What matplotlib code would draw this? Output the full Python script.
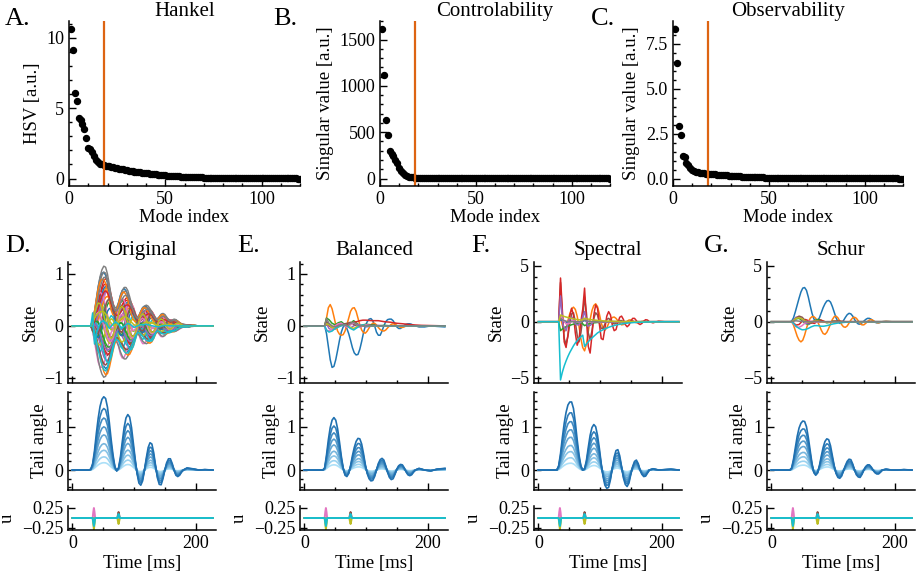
import numpy as np
import matplotlib
matplotlib.use('Agg')
import matplotlib.pyplot as plt
from matplotlib.ticker import MultipleLocator, AutoMinorLocator
from matplotlib.colors import to_rgb

plt.rcParams['font.family'] = ['Liberation Serif', 'DejaVu Serif']
plt.rcParams['font.size'] = 13

# ---------------- top row: singular values ----------------
modes = list(range(1, 121))
cutoff = 18

hsv = [10.65, 9.1, 6.1, 5.5, 4.3, 4.15, 3.85, 3.55, 2.85, 2.2, 2.1, 1.85, 1.6, 1.35, 1.15, 1.05, 1.0,
       0.95, 0.92, 0.89, 0.86, 0.83, 0.80, 0.77, 0.74, 0.71, 0.68, 0.65, 0.62, 0.60,
       0.57, 0.55, 0.52, 0.50, 0.48, 0.46, 0.44, 0.42, 0.40, 0.38,
       0.36, 0.34, 0.33, 0.31, 0.30, 0.28, 0.27, 0.25, 0.24, 0.23,
       0.21, 0.20, 0.19, 0.18, 0.17, 0.16, 0.15, 0.14, 0.135, 0.13,
       0.12, 0.115, 0.11, 0.10, 0.095, 0.09, 0.085, 0.08, 0.075, 0.07,
       0.065, 0.06, 0.057, 0.054, 0.05, 0.047, 0.044, 0.041, 0.038, 0.036,
       0.034, 0.032, 0.03, 0.028, 0.026, 0.025, 0.024, 0.022, 0.021, 0.02,
       0.019, 0.018, 0.017, 0.016, 0.015, 0.014, 0.013, 0.012, 0.012, 0.011,
       0.011, 0.010, 0.010, 0.009, 0.009, 0.008, 0.008, 0.008, 0.007, 0.007,
       0.007, 0.006, 0.006, 0.006, 0.005, 0.005, 0.005, 0.005, 0.004, 0.004]

ctrl = [1620, 1115, 630, 470, 295, 265, 240, 205, 170, 115, 80, 55, 38, 28, 20, 15, 12,
        10, 9, 8, 7.5, 7, 6.5, 6, 5.6, 5.2, 4.9, 4.6, 4.3, 4.0,
        3.8, 3.6, 3.4, 3.2, 3.0, 2.8, 2.6, 2.5, 2.4, 2.3,
        2.2, 2.1, 2.0, 1.9, 1.8, 1.7, 1.6, 1.5, 1.45, 1.4,
        1.3, 1.25, 1.2, 1.15, 1.1, 1.05, 1.0, 0.95, 0.9, 0.85,
        0.8, 0.76, 0.72, 0.68, 0.64, 0.6, 0.57, 0.54, 0.51, 0.48,
        0.45, 0.43, 0.41, 0.39, 0.37, 0.35, 0.33, 0.31, 0.3, 0.28,
        0.27, 0.26, 0.25, 0.24, 0.23, 0.22, 0.21, 0.2, 0.19, 0.18,
        0.17, 0.16, 0.15, 0.14, 0.13, 0.12, 0.11, 0.1, 0.1, 0.09,
        0.09, 0.08, 0.08, 0.07, 0.07, 0.06, 0.06, 0.05, 0.05, 0.05,
        0.04, 0.04, 0.04, 0.03, 0.03, 0.03, 0.02, 0.02, 0.02, 0.01]

obs = [8.35, 6.45, 2.9, 2.4, 1.25, 1.2, 0.88, 0.75, 0.6, 0.48, 0.42, 0.38, 0.35, 0.33, 0.31, 0.29, 0.28,
       0.27, 0.26, 0.25, 0.24, 0.23, 0.22, 0.21, 0.2, 0.19, 0.18, 0.17, 0.16, 0.15,
       0.145, 0.14, 0.13, 0.125, 0.12, 0.11, 0.105, 0.1, 0.095, 0.09,
       0.085, 0.08, 0.076, 0.072, 0.068, 0.064, 0.06, 0.057, 0.054, 0.051,
       0.048, 0.045, 0.043, 0.041, 0.039, 0.037, 0.035, 0.033, 0.031, 0.03,
       0.028, 0.027, 0.026, 0.025, 0.024, 0.023, 0.022, 0.021, 0.02, 0.019,
       0.018, 0.017, 0.016, 0.015, 0.015, 0.014, 0.013, 0.013, 0.012, 0.012,
       0.011, 0.011, 0.01, 0.01, 0.01, 0.009, 0.009, 0.009, 0.008, 0.008,
       0.008, 0.007, 0.007, 0.007, 0.007, 0.006, 0.006, 0.006, 0.006, 0.005,
       0.005, 0.005, 0.005, 0.005, 0.004, 0.004, 0.004, 0.004, 0.004, 0.004,
       0.003, 0.003, 0.003, 0.003, 0.003, 0.003, 0.003, 0.002, 0.002, 0.002]

# ---------------- bottom rows: time series ----------------
t_ms = [0, 27, 30, 33, 36, 39, 42, 45, 48, 51,
        54, 57, 60, 63, 66, 69, 72, 75, 78, 81,
        84, 87, 90, 93, 96, 99, 102, 105, 108, 111,
        114, 117, 120, 123, 126, 129, 132, 135, 138, 141,
        144, 147, 150, 153, 156, 159, 162, 165, 168, 171,
        174, 177, 180, 186, 195, 205, 215, 228]

# largest tail-angle trace (tail tip) for each model
tail_original = [0, 0, 0.02, 0.15, 0.45, 0.85, 1.2, 1.47, 1.63, 1.69,
                 1.65, 1.45, 1.1, 0.7, 0.35, 0.08, -0.02, 0.05, 0.3, 0.65,
                 0.98, 1.2, 1.28, 1.22, 0.98, 0.62, 0.25, -0.08, -0.3, -0.35,
                 -0.25, 0.0, 0.28, 0.52, 0.63, 0.6, 0.4, 0.1, -0.18, -0.33,
                 -0.34, -0.2, 0.0, 0.17, 0.26, 0.26, 0.15, 0.0, -0.12, -0.15,
                 -0.12, -0.05, 0.0, 0.05, 0.03, 0.0, 0.01, 0.0]
tail_balanced = [0, 0, 0, 0.05, 0.35, 0.7, 0.98, 1.15, 1.21, 1.15,
                 0.95, 0.65, 0.32, 0.05, -0.12, -0.15, -0.08, 0.1, 0.33, 0.52,
                 0.66, 0.73, 0.72, 0.6, 0.38, 0.12, -0.08, -0.2, -0.25, -0.24,
                 -0.15, 0.0, 0.15, 0.24, 0.27, 0.23, 0.1, -0.05, -0.17, -0.22,
                 -0.2, -0.1, 0.02, 0.1, 0.13, 0.12, 0.05, -0.04, -0.11, -0.13,
                 -0.11, -0.05, 0.0, 0.04, 0.0, -0.02, 0.02, 0.04]
tail_spectral = [0, 0, 0, 0.1, 0.38, 0.75, 1.08, 1.33, 1.5, 1.57,
                 1.57, 1.42, 1.1, 0.7, 0.35, 0.1, 0.0, 0.03, 0.22, 0.52,
                 0.8, 0.98, 1.05, 1.0, 0.8, 0.5, 0.15, -0.15, -0.35, -0.42,
                 -0.4, -0.22, 0.05, 0.3, 0.45, 0.47, 0.33, 0.08, -0.18, -0.33,
                 -0.38, -0.3, -0.1, 0.08, 0.2, 0.23, 0.15, 0.0, -0.1, -0.15,
                 -0.14, -0.07, 0.0, 0.03, 0.0, 0.01, 0.02, 0.0]
tail_schur = [0, 0, 0, 0.05, 0.25, 0.52, 0.78, 0.97, 1.08, 1.13,
              1.12, 1.0, 0.75, 0.45, 0.15, -0.06, -0.12, -0.07, 0.1, 0.32,
              0.52, 0.66, 0.72, 0.7, 0.56, 0.33, 0.1, -0.08, -0.17, -0.19,
              -0.14, -0.02, 0.1, 0.2, 0.25, 0.24, 0.14, 0.0, -0.11, -0.16,
              -0.17, -0.1, 0.0, 0.08, 0.12, 0.12, 0.07, 0.0, -0.06, -0.09,
              -0.09, -0.05, 0.0, 0.02, 0.0, 0.0, 0.01, 0.0]
# relative amplitude of each tail segment (base -> tip)
tail_gains = [0.1, 0.18, 0.27, 0.36, 0.48, 0.59, 0.71, 0.84, 1.0]

state_original = [0, 0, 0, 0.05, 0.25, 0.5, 0.75, 0.95, 1.08, 1.15,
                  1.13, 1.0, 0.8, 0.58, 0.42, 0.35, 0.36, 0.45, 0.58, 0.68,
                  0.74, 0.74, 0.68, 0.56, 0.42, 0.3, 0.2, 0.17, 0.2, 0.27,
                  0.34, 0.38, 0.4, 0.38, 0.33, 0.27, 0.2, 0.15, 0.14, 0.17,
                  0.22, 0.24, 0.22, 0.17, 0.12, 0.1, 0.11, 0.13, 0.12, 0.09,
                  0.06, 0.04, 0.03, 0.02, 0.01, 0.0, 0.0, 0.0]
state_original_b = [0, 0, 0, 0.3, 0.6, 0.85, 1.0, 0.9, 0.6, 0.2,
                    -0.2, -0.6, -0.85, -0.9, -0.7, -0.3, 0.1, 0.5, 0.8, 0.85,
                    0.65, 0.3, -0.1, -0.5, -0.7, -0.7, -0.5, -0.15, 0.2, 0.45,
                    0.55, 0.45, 0.2, -0.1, -0.35, -0.45, -0.4, -0.2, 0.05, 0.25,
                    0.3, 0.25, 0.1, -0.08, -0.2, -0.22, -0.15, -0.03, 0.08, 0.12,
                    0.1, 0.05, 0.0, -0.04, 0.02, 0.0, 0.0, 0.0]
gains_original = [0.88, 0.6, 0.35, 0.78, -0.55, 0.15, 0.5, 1.0, 0.25, -0.2,
                  -0.7, 0.45, -0.3, 0.7, 0.05, -0.45, -0.6, -0.86, -0.1, 0.3,
                  0.65, -0.8, 0.2, -0.4, 0.55, -0.65, 0.4, 0.9, -0.15, -0.5,
                  0.1, 0.75, -0.25, 0.58, -0.35, 0.28, -0.05, 0.82, 0.12, -0.75]
gains_original_b = [0.1, -0.25, 0.3, -0.15, 0.2, 0.35, -0.3, 0.0, 0.25, -0.35,
                    0.15, -0.2, 0.3, -0.1, 0.35, 0.2, -0.25, 0.0, 0.3, -0.3,
                    -0.15, 0.2, -0.35, 0.25, -0.2, 0.1, 0.3, 0.0, -0.25, 0.35,
                    -0.3, 0.15, 0.25, -0.1, 0.2, -0.35, 0.3, -0.05, 0.35, 0.1]

state_bal_blue = [0, 0, 0, 0, -0.15, -0.4, -0.65, -0.8, -0.78, -0.65,
                  -0.47, -0.28, -0.12, -0.02, 0.0, -0.05, -0.15, -0.28, -0.42, -0.52,
                  -0.56, -0.55, -0.45, -0.3, -0.13, 0.0, 0.08, 0.13, 0.14, 0.1,
                  0.0, -0.12, -0.18, -0.18, -0.1, 0.0, 0.08, 0.12, 0.13, 0.13,
                  0.1, 0.04, -0.02, -0.05, -0.05, -0.02, 0.01, 0.03, 0.04, 0.04,
                  0.03, 0.01, 0.0, -0.02, -0.02, 0.0, -0.01, -0.02]
state_bal_orange = [0, 0, 0, 0, 0.15, 0.35, 0.41, 0.33, 0.18, 0.02,
                    -0.1, -0.16, -0.18, -0.17, -0.1, 0.02, 0.15, 0.28, 0.34, 0.35,
                    0.28, 0.15, 0.02, -0.08, -0.13, -0.14, -0.1, -0.04, 0.02, 0.05,
                    0.05, 0.02, -0.03, -0.07, -0.09, -0.1, -0.08, -0.04, 0.0, 0.03,
                    0.04, 0.03, 0.01, -0.01, -0.03, -0.03, -0.02, 0.0, 0.01, 0.01,
                    0.01, 0.0, 0.0, -0.01, 0.0, 0.0, 0.0, 0.0]

state_spec_cyan = [0, 0, 0, 0, -5.2, -4.5, -3.95, -3.5, -3.1, -2.75,
                   -2.45, -2.15, -1.9, -1.7, -1.5, -1.35, -1.2, -2.2, -2.0, -1.8,
                   -1.6, -1.45, -1.3, -1.15, -1.0, -0.9, -0.8, -0.72, -0.64, -0.57,
                   -0.5, -0.44, -0.39, -0.34, -0.3, -0.26, -0.23, -0.2, -0.17, -0.15,
                   -0.13, -0.11, -0.1, -0.08, -0.07, -0.06, -0.05, -0.04, -0.04, -0.03,
                   -0.03, -0.02, -0.02, -0.01, -0.01, 0.0, 0.0, 0.0]
state_spec_red = [0, 0, 0, 0, 3.9, 1.0, -1.8, -2.3, -1.2, 0.5,
                  1.2, 0.6, -1.0, -2.1, -1.6, 0.0, 1.1, 3.0, 0.2, -2.2,
                  -2.8, -1.2, 0.6, 1.5, 1.2, -0.2, -1.5, -1.6, -0.6, 0.5,
                  0.9, 0.6, -0.3, -0.8, -0.7, -0.1, 0.4, 0.5, 0.2, -0.25,
                  -0.45, -0.3, 0.05, 0.3, 0.3, 0.1, -0.15, -0.25, -0.15, 0.05,
                  0.18, 0.15, 0.0, -0.1, 0.05, 0.0, 0.0, 0.0]
state_spec_orange = [0, 0, 0, 0, 0.3, -0.3, -0.9, -0.6, 0.1, 0.7,
                     1.15, 1.3, 1.1, 0.5, -0.4, -1.5, -2.3, -2.6, -2.0, -0.9,
                     0.2, 1.0, 1.45, 1.6, 1.35, 0.7, -0.1, -0.6, -0.75, -0.55,
                     -0.15, 0.2, 0.38, 0.42, 0.3, 0.08, -0.15, -0.28, -0.25, -0.12,
                     0.05, 0.15, 0.16, 0.08, -0.03, -0.09, -0.08, -0.03, 0.03, 0.05,
                     0.03, 0.0, -0.02, 0.0, 0.0, 0.0, 0.0, 0.0]
state_spec_brown = [0, 0, 0, 0, 3.5, 0.5, -1.5, -2.0, -1.3, -0.2,
                    0.7, 0.8, 0.0, -1.2, -1.8, -1.0, 0.3, 2.2, 0.8, -1.0,
                    -1.6, -0.8, 0.3, 0.8, 0.6, -0.1, -0.6, -0.6, -0.2, 0.2,
                    0.3, 0.15, -0.1, -0.2, -0.15, 0.0, 0.1, 0.1, 0.0, -0.05,
                    -0.05, 0.0, 0.03, 0.03, 0.0, 0.0, 0.0, 0.0, 0.0, 0.0,
                    0, 0, 0, 0, 0, 0, 0, 0]

state_schur_blue = [0, 0, 0, 0.05, 0.35, 0.9, 1.5, 2.1, 2.65, 3.0,
                    3.05, 2.8, 2.2, 1.45, 0.75, 0.25, 0.05, 0.1, 0.35, 0.8,
                    1.25, 1.6, 1.85, 1.9, 1.75, 1.35, 0.85, 0.35, 0.0, -0.15,
                    -0.1, 0.1, 0.38, 0.62, 0.75, 0.7, 0.5, 0.2, -0.05, -0.2,
                    -0.22, -0.1, 0.05, 0.2, 0.3, 0.3, 0.22, 0.08, -0.05, -0.1,
                    -0.1, -0.05, 0.0, 0.03, 0.0, 0.0, 0.0, 0.0]
state_schur_orange = [0, 0, 0, 0, -0.3, -0.8, -1.3, -1.65, -1.8, -1.65,
                      -1.2, -0.6, -0.05, 0.3, 0.45, 0.45, 0.3, 0.0, -0.35, -0.75,
                      -1.05, -1.13, -0.95, -0.6, -0.2, 0.2, 0.45, 0.5, 0.35, 0.05,
                      -0.25, -0.45, -0.5, -0.38, -0.12, 0.15, 0.35, 0.4, 0.3, 0.08,
                      -0.15, -0.28, -0.28, -0.15, 0.02, 0.15, 0.18, 0.12, 0.0, -0.08,
                      -0.1, -0.06, 0.0, 0.03, 0.0, 0.0, 0.0, 0.0]

# smaller states on a coarser time grid
t_small = [0, 30, 33, 36, 40, 45, 50, 55, 60, 65,
           70, 75, 80, 85, 90, 95, 100, 110, 120, 130,
           140, 150, 160, 175, 190, 228]

orig_olive = [0, 0, 0.05, 0.15, 0.22, 0.27, 0.28, 0.22, 0.1, 0.02, 0.0, 0.08, 0.15, 0.18, 0.15, 0.08, 0.02, 0.0, 0.08, 0.05, 0.0, 0.03, 0.02, 0.0, 0.0, 0.0]
orig_cyan = [0, 0, 0.25, -0.35, -0.1, 0.05, 0.1, 0.05, -0.05, 0.02, 0.08, 0.03, -0.05, 0.0, 0.05, 0.02, -0.03, 0.02, 0.03, 0.0, -0.02, 0.01, 0.0, 0.0, 0.0, 0.0]

bal_green = [0, 0, 0, 0.15, 0.12, 0.05, 0.02, 0.06, 0.08, 0.03, -0.02, 0.05, 0.1, 0.05, 0.0, 0.02, 0.03, 0.02, 0.0, 0.01, 0, 0, 0, 0, 0, 0]
bal_red = [0, 0, 0, 0.02, 0.0, -0.03, 0.0, 0.02, 0.03, 0.02, 0.03, 0.05, 0.07, 0.08, 0.1, 0.11, 0.11, 0.1, 0.1, 0.08, 0.07, 0.05, 0.04, 0.02, 0.01, 0]
bal_purple = [0, 0, 0, 0.05, -0.05, -0.08, -0.05, 0.0, 0.04, 0.02, -0.02, -0.04, 0.0, 0.03, 0.02, 0, -0.02, 0, 0.01, 0, 0, 0, 0, 0, 0, 0]
bal_brown = [0, 0, 0, 0.08, 0.03, -0.04, -0.06, -0.02, 0.02, 0.04, 0.05, 0.07, 0.03, 0.0, -0.02, 0.0, 0.02, 0.01, 0, 0, 0, 0, 0, 0, 0, 0]
bal_pink = [0, 0, 0, -0.08, -0.1, -0.06, 0.0, 0.04, 0.05, 0.0, -0.03, 0.02, 0.06, 0.02, -0.03, 0, 0.02, 0, 0, 0, 0, 0, 0, 0, 0, 0]
bal_olive = [0, 0, 0, 0.04, 0.02, -0.03, -0.05, -0.02, 0.01, 0.02, 0.0, -0.03, -0.05, -0.02, 0.0, 0.01, 0, 0, 0, 0, 0, 0, 0, 0, 0, 0]
bal_cyan = [0, 0, 0, -0.08, -0.12, -0.1, -0.05, -0.02, 0.0, 0.02, 0.0, -0.05, -0.08, -0.04, 0.0, 0.02, 0.0, 0.0, 0, 0, 0, 0, 0, 0, 0, 0]
bal_gray = [0, 0, 0, 0.14, 0.05, 0.0, -0.02, 0.0, 0.02, 0.02, 0.0, 0.05, 0.07, 0.02, 0.0, 0.0, 0.0, 0, 0, 0, 0, 0, 0, 0, 0, 0]

spec_blue = [0, 0, 0, 0.2, 0.05, -0.05, 0.0, 0.05, 0.0, -0.03, 0, 0.1, 0.03, 0, 0, 0, 0, 0, 0, 0, 0, 0, 0, 0, 0, 0]
spec_green = [0, 0, 0, -0.8, -0.6, -0.45, -0.35, -0.25, -0.18, -0.12, -0.08, -0.35, -0.22, -0.15, -0.1, -0.07, -0.05, -0.02, 0, 0, 0, 0, 0, 0, 0, 0]
spec_purple = [0, 0, 0, 2.3, -0.3, -0.8, 0.2, 0.4, -0.2, -0.3, 0.1, 0.9, -0.4, -0.3, 0.1, 0.1, -0.05, 0, 0, 0, 0, 0, 0, 0, 0, 0]
spec_pink = [0, 0, 0, 0.5, 0.2, -0.2, -0.15, 0.1, 0.05, -0.05, 0, 0.3, 0.05, -0.05, 0, 0, 0, 0, 0, 0, 0, 0, 0, 0, 0, 0]
spec_gray = [0, 0, 0, 0.3, 0.15, 0.05, 0, 0, 0, 0, 0, 0.15, 0.05, 0, 0, 0, 0, 0, 0, 0, 0, 0, 0, 0, 0, 0]
spec_olive = [0, 0, 0, 0.6, 0.5, 0.42, 0.35, 0.28, 0.22, 0.18, 0.14, 0.3, 0.24, 0.19, 0.15, 0.12, 0.1, 0.06, 0.04, 0.02, 0.01, 0, 0, 0, 0, 0]

schur_green = [0, 0, 0, 0.1, 0.25, 0.3, 0.1, -0.15, -0.25, -0.1, 0.1, 0.2, 0.15, 0, -0.1, -0.05, 0.05, 0.05, -0.03, 0, 0, 0, 0, 0, 0, 0]
schur_red = [0, 0, 0, -0.1, -0.3, -0.25, 0.05, 0.2, 0.1, -0.1, -0.15, 0.05, 0.15, 0.05, -0.05, -0.05, 0.03, 0.05, 0, 0, 0, 0, 0, 0, 0, 0]
schur_purple = [0, 0, 0, 0.15, 0.4, 0.45, 0.2, -0.1, -0.2, -0.05, 0.1, 0.1, 0, -0.05, 0, 0, 0, 0, 0, 0, 0, 0, 0, 0, 0, 0]
schur_brown = [0, 0, 0, 0.05, 0.3, 0.5, 0.4, 0.1, -0.1, -0.1, 0.05, 0.1, 0.05, -0.02, 0, 0, 0, 0, 0, 0, 0, 0, 0, 0, 0, 0]
schur_pink = [0, 0, 0, -0.2, -0.45, -0.5, -0.35, -0.1, 0.05, 0.05, 0.0, -0.05, -0.05, 0, 0, 0, 0, 0, 0, 0, 0, 0, 0, 0, 0, 0]
schur_olive = [0, 0, 0, 0.1, 0.3, 0.35, 0.25, 0.05, -0.05, 0, 0.05, 0.05, 0, 0, 0, 0, 0, 0, 0, 0, 0, 0, 0, 0, 0, 0]
schur_cyan = [0, 0, 0, -0.15, -0.4, -0.6, -0.72, -0.7, -0.6, -0.45, -0.35, -0.35, -0.4, -0.4, -0.35, -0.28, -0.2, -0.1, -0.05, -0.02, 0, 0, 0, 0, 0, 0]
schur_gray = [0, 0, 0, 0.05, 0.08, 0.05, 0.02, 0, 0, 0, 0, 0, 0, 0, 0, 0, 0, 0, 0, 0, 0, 0, 0, 0, 0, 0]

# inputs
t_u = [0, 33, 34, 35, 36, 37, 73, 74, 75, 76, 77, 228]
u_zero = [0, 0, 0, 0, 0, 0, 0, 0, 0, 0, 0, 0]
u_brown = [0, 0, 0, 0, 0, 0, 0, 0.08, 0.15, 0.08, 0, 0]
u_pink = [0, 0, 0.15, 0.25, 0.15, 0, 0, 0, 0, 0, 0, 0]
u_olive = [0, 0, -0.15, -0.28, -0.15, 0, 0, -0.08, -0.15, -0.08, 0, 0]
u_cyan = [0, 0, -0.12, -0.2, -0.12, 0, 0, 0.05, 0.1, 0.05, 0, 0]

titles = ['Original', 'Balanced', 'Spectral', 'Schur']
letters = ['D.', 'E.', 'F.', 'G.']

tab = ['#1f77b4', '#ff7f0e', '#2ca02c', '#d62728', '#9467bd',
       '#8c564b', '#e377c2', '#7f7f7f', '#bcbd22', '#17becf']
ORANGE = '#dd6412'

W, H = 917, 575


def box(x0, y0, x1, y1):
    return [x0 / W, 1 - y1 / H, (x1 - x0) / W, (y1 - y0) / H]


def StyleAx(ax):
    for s in ['top', 'right']:
        ax.spines[s].set_visible(False)
    for s in ['left', 'bottom']:
        ax.spines[s].set_linewidth(1.1)
    ax.tick_params(which='both', direction='in', top=False, right=False, width=1.0, labelsize=13)
    ax.tick_params(which='major', length=5)
    ax.tick_params(which='minor', length=2.5)
    ax.xaxis.set_minor_locator(AutoMinorLocator())
    ax.yaxis.set_minor_locator(AutoMinorLocator())


fig = plt.figure(figsize=(9.17, 5.75), dpi=100)

# top row
topBoxes = [(69, 21, 300, 186), (380, 21, 610, 186), (673, 21, 903, 186)]
topData = [hsv, ctrl, obs]
topTitles = ['Hankel', 'Controlability', 'Observability']
topLabels = ['HSV [a.u.]', 'Singular value [a.u.]', 'Singular value [a.u.]']
topSteps = [5, 500, 2.5]
for b, vals, title, lab, step in zip(topBoxes, topData, topTitles, topLabels, topSteps):
    ax = fig.add_axes(box(*b))
    ax.plot(modes, vals, 'o', color='k', ms=4.3, clip_on=True)
    ax.axvline(cutoff, color=ORANGE, lw=1.6)
    ax.set_xlim(0, 120)
    ax.xaxis.set_major_locator(MultipleLocator(50))
    ax.yaxis.set_major_locator(MultipleLocator(step))
    StyleAx(ax)
    ax.set_title(title, fontsize=15, pad=1.5)
    ax.set_xlabel('Mode index', fontsize=13.5, labelpad=1)
    ax.set_ylabel(lab, fontsize=13.5)

fig.text(5 / W, 1 - 25 / H, 'A.', fontsize=19, va='baseline')
fig.text(273 / W, 1 - 25 / H, 'B.', fontsize=19, va='baseline')
fig.text(591 / W, 1 - 25 / H, 'C.', fontsize=19, va='baseline')

# bottom grid
lefts = [68, 300, 534, 767]
width = 148
rowState = (262, 383)
rowTail = (392, 490)
rowU = (506, 530)

tails = [tail_original, tail_balanced, tail_spectral, tail_schur]
light = np.array(to_rgb('#ace0f8'))
dark = np.array(to_rgb('#1f70b0'))
tailColors = [tuple(light + (dark - light) * f) for f in np.linspace(0, 1, len(tail_gains))]

stateBig = [
    [],
    [(state_bal_blue, tab[0]), (state_bal_orange, tab[1])],
    [(state_spec_orange, tab[1]), (state_spec_brown, tab[5]), (state_spec_red, tab[3])],
    [(state_schur_blue, tab[0]), (state_schur_orange, tab[1])],
]
stateSmall = [
    [(orig_olive, tab[8]), (orig_cyan, tab[9])],
    [(bal_green, tab[2]), (bal_red, tab[3]), (bal_purple, tab[4]), (bal_brown, tab[5]),
     (bal_pink, tab[6]), (bal_olive, tab[8]), (bal_cyan, tab[9]), (bal_gray, tab[7])],
    [(spec_blue, tab[0]), (spec_green, tab[2]), (spec_purple, tab[4]), (spec_pink, tab[6]),
     (spec_gray, tab[7]), (spec_olive, tab[8])],
    [(schur_green, tab[2]), (schur_red, tab[3]), (schur_purple, tab[4]), (schur_brown, tab[5]),
     (schur_pink, tab[6]), (schur_olive, tab[8]), (schur_cyan, tab[9]), (schur_gray, tab[7])],
]
stateLims = [(-1.1, 1.23), (-1.1, 1.23), (-5.47, 5.33), (-5.47, 5.33)]
stateSteps = [1, 1, 5, 5]

for j in range(4):
    x0 = lefts[j]
    axS = fig.add_axes(box(x0, rowState[0], x0 + width, rowState[1]))
    axT = fig.add_axes(box(x0, rowTail[0], x0 + width, rowTail[1]))
    axU = fig.add_axes(box(x0, rowU[0], x0 + width, rowU[1]))

    # states
    if j == 0:
        baseA = np.array(state_original)
        baseB = np.array(state_original_b)
        for i, (g, h) in enumerate(zip(gains_original, gains_original_b)):
            axS.plot(t_ms, g * baseA + h * baseB, color=tab[i % 10], lw=1.05)
    for ys, c in stateBig[j]:
        axS.plot(t_ms, ys, color=c, lw=1.1)
    for ys, c in stateSmall[j]:
        axS.plot(t_small, ys, color=c, lw=1.1)
    if j == 2:
        axS.plot(t_ms, state_spec_cyan, color=tab[9], lw=1.1)
    axS.set_ylim(*stateLims[j])
    axS.yaxis.set_major_locator(MultipleLocator(stateSteps[j]))
    axS.set_ylabel('State', fontsize=13.5)
    axS.set_title(titles[j], fontsize=15, pad=5)

    # tail angles
    tail = np.array(tails[j])
    for g, c in zip(tail_gains, tailColors):
        axT.plot(t_ms, g * tail, color=c, lw=1.2)
    axT.set_ylim(-0.46, 1.8)
    axT.yaxis.set_major_locator(MultipleLocator(1))
    axT.set_ylabel('Tail angle', fontsize=13.5)

    # inputs
    for k in range(10):
        axU.plot(t_u, u_zero, color=tab[k], lw=1.4)
    axU.plot(t_u, u_brown, color=tab[5], lw=1.4)
    axU.plot(t_u, u_pink, color=tab[6], lw=1.4)
    axU.plot(t_u, u_olive, color=tab[8], lw=1.4)
    axU.plot(t_u, u_cyan, color=tab[9], lw=1.4)
    axU.set_ylim(-0.3, 0.3)
    axU.set_yticks([-0.25, 0.25])
    axU.set_ylabel('u', fontsize=13.5)
    axU.set_xlabel('Time [ms]', fontsize=13.5, labelpad=2)

    for ax in (axS, axT, axU):
        ax.set_xlim(-7, 233)
        ax.xaxis.set_major_locator(MultipleLocator(200))
        StyleAx(ax)
    axU.yaxis.set_minor_locator(AutoMinorLocator(1))
    axS.tick_params(labelbottom=False)
    axT.tick_params(labelbottom=False)

    fig.text((x0 - 63) / W, 1 - 252 / H, letters[j], fontsize=19, va='baseline')

fig.savefig('out.png', dpi=100)
